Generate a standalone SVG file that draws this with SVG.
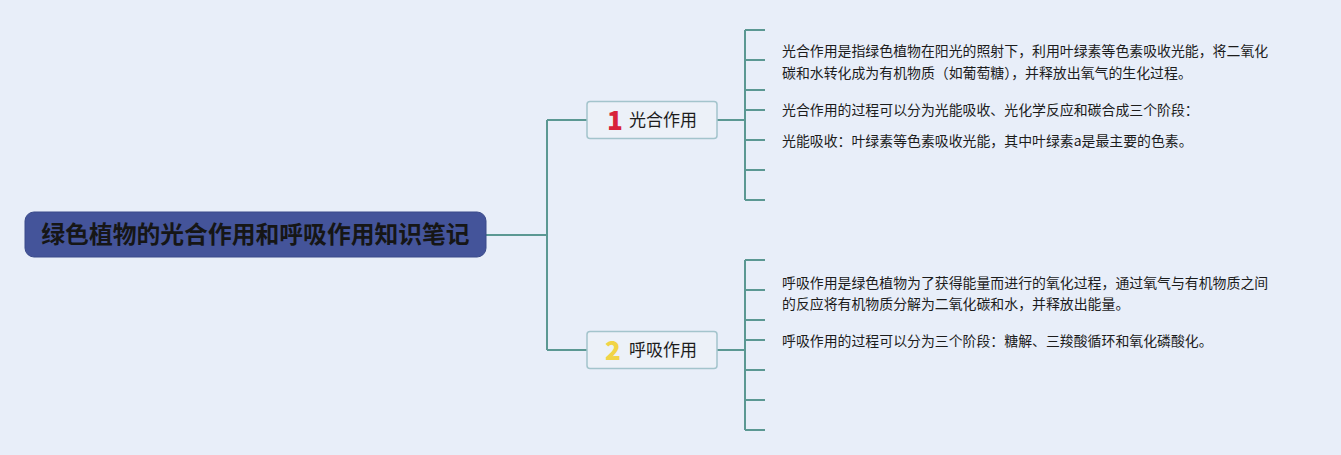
<svg xmlns="http://www.w3.org/2000/svg" width="1341" height="455" viewBox="0 0 1341 455">
<style>
.bg{fill:#e8eef9}
.ln{fill:none;stroke:#5b9893;stroke-width:2}
.root{fill:#44549a;stroke:#3a4a8a;stroke-width:1}
.rt{font-family:"Noto Sans CJK SC","Noto Sans",sans-serif;font-size:23.8px;font-weight:bold;fill:#161616}
.box{fill:#ecf1f8;stroke:#a3c4cc;stroke-width:1.5}
.nt{font-family:"Noto Sans CJK SC","Noto Sans",sans-serif;font-size:17px;fill:#1c1c1c}
.num{font-family:"Noto Sans CJK SC","Noto Sans",sans-serif;font-size:26px;font-weight:900}
.tx{font-family:"Noto Sans CJK SC","Noto Sans",sans-serif;font-size:13.9px;fill:#1c1c1c}
</style>
<rect class="bg" width="1341" height="455"/>
<g id="connectors">
<path class="ln" d="M486,235 H547 M547,120 V350 M547,120 H587 M547,350 H587"/>
<path class="ln" d="M717,120 H745 M745,30 V200 M745,30 H765 M745,60 H765 M745,90 H765 M745,110 H765 M745,140 H765 M745,170 H765 M745,200 H765"/>
<path class="ln" d="M717,350 H745 M745,260 V430 M745,260 H765 M745,290 H765 M745,320 H765 M745,340 H765 M745,370 H765 M745,400 H765 M745,430 H765"/>
</g>
<g id="root">
<rect class="root" x="25" y="212" width="461" height="45" rx="9"/>
<text class="rt" x="255.5" y="243" text-anchor="middle">绿色植物的光合作用和呼吸作用知识笔记</text>
</g>
<g id="node1">
<rect class="box" x="587" y="101.5" width="130" height="37" rx="3"/>
<text class="num" x="607" y="130" fill="#d8233a">1</text>
<text class="nt" x="629" y="126">光合作用</text>
</g>
<g id="node2">
<rect class="box" x="587" y="331.5" width="130" height="37" rx="3"/>
<text class="num" x="605" y="360" fill="#f1d447">2</text>
<text class="nt" x="629" y="356">呼吸作用</text>
</g>
<g id="leaf1a">
<text class="tx" x="782" y="56">光合作用是指绿色植物在阳光的照射下，利用叶绿素等色素吸收光能，将二氧化</text>
<text class="tx" x="782" y="78">碳和水转化成为有机物质（如葡萄糖），并释放出氧气的生化过程。</text>
</g>
<g id="leaf1b"><text class="tx" x="782" y="115">光合作用的过程可以分为光能吸收、光化学反应和碳合成三个阶段：</text></g>
<g id="leaf1c"><text class="tx" x="782" y="146">光能吸收：叶绿素等色素吸收光能，其中叶绿素a是最主要的色素。</text></g>
<g id="leaf2a">
<text class="tx" x="782" y="288">呼吸作用是绿色植物为了获得能量而进行的氧化过程，通过氧气与有机物质之间</text>
<text class="tx" x="782" y="309">的反应将有机物质分解为二氧化碳和水，并释放出能量。</text>
</g>
<g id="leaf2b"><text class="tx" x="782" y="346">呼吸作用的过程可以分为三个阶段：糖解、三羧酸循环和氧化磷酸化。</text></g>
</svg>
